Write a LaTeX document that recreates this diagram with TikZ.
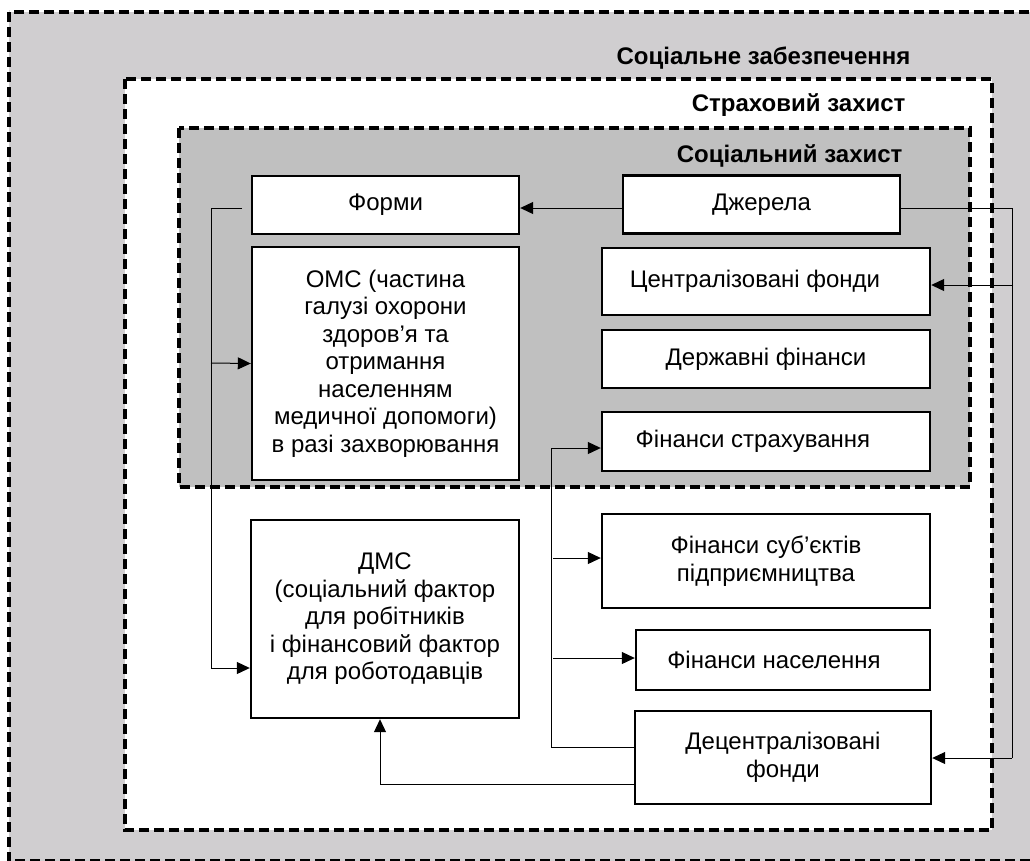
\documentclass[tikz,border=0pt]{standalone}
\usepackage{fontspec}
\setmainfont{Liberation Sans}
\usetikzlibrary{arrows.meta}
\definecolor{outerg}{RGB}{208,206,208}
\definecolor{innerg}{RGB}{192,192,192}
\begin{document}
\begin{tikzpicture}[x=1pt,y=-1pt,
  frame/.style={line width=3.4pt, dash pattern=on 10pt off 5pt},
  box/.style={draw, line width=2.4pt, fill=white, inner sep=0pt, align=center,
    font=\fontsize{24}{27.5}\selectfont},
  ttl/.style={anchor=east, font=\bfseries\fontsize{24}{27}\selectfont},
  conn/.style={line width=1pt},
  arr/.style={conn, -{Triangle[length=13pt,width=12pt]}}]
\useasboundingbox (0,0) rectangle (1030,860);
\clip (0,0) rectangle (1030,860);
% frames
\draw[frame, fill=outerg] (9,12) rectangle (1050,861);
\node[ttl] (t1) at (914,58) {Соціальне забезпечення};
\draw[frame, fill=white] (125,79) rectangle (992,830);
\node[ttl] (t2) at (909,105) {Страховий захист};
\draw[frame, fill=innerg] (179,128) rectangle (970,487);
\node[ttl] (t3) at (906,156) {Соціальний захист};
% boxes
\node[box, minimum width=267pt, minimum height=58pt] (formy) at (385.5,205) {Форми};
\node[box, minimum width=277pt, minimum height=58pt] (dzh) at (761.5,204.5) {Джерела};
\node[box, minimum width=267pt, minimum height=233pt] (oms) at (385.5,363.5)
  {ОМС (частина\\галузі охорони\\здоров’я та\\отримання\\населенням\\медичної допомоги)\\в разі захворювання};
\node[box, minimum width=328pt, minimum height=67pt] (cent) at (766,281.5) {Централізовані фонди\hspace*{22pt}};
\node[box, minimum width=328pt, minimum height=58pt] (derzh) at (766,359) {Державні фінанси};
\node[box, minimum width=328pt, minimum height=59pt] (strakh) at (766,441.5) {Фінанси страхування\hspace*{26pt}};
\node[box, minimum width=328pt, minimum height=94pt] (subj) at (766,561) {Фінанси суб’єктів\\підприємництва};
\node[box, minimum width=294pt, minimum height=60pt] (nasel) at (783,660) {Фінанси населення\hspace*{18pt}};
\node[box, minimum width=268pt, minimum height=198pt] (dms) at (385,619)
  {ДМС\\(соціальний фактор\\для робітників\\і фінансовий фактор\\для роботодавців};
\node[box, minimum width=296pt, minimum height=93pt] (decent) at (783,757.5) {Децентралізовані\\фонди};
% connectors
\coordinate (fl) at (242,208);
\coordinate (lv) at (211,208);
\draw[arr] (dzh.west |- 0,208) -- (formy.east |- 0,208);
\draw[conn] (fl) -- (lv) -- (211,668);
\draw[arr] (211,668) -- (dms.west |- 0,668);
\draw[arr] (211,363) -- (oms.west);
\coordinate (rv) at (1012,208);
\draw[conn] (dzh.east |- 0,208) -- (rv) -- (1012,758);
\draw[arr] (1012,758) -- (decent.east |- 0,758);
\draw[arr] (1013,285) -- (cent.east |- 0,285);
\coordinate (mv) at (551,747);
\draw[conn] (decent.west |- 0,747) -- (mv);
\draw[arr] (mv) -- (551,448) -- (strakh.west |- 0,448);
\draw[arr] (553,558) -- (subj.west |- 0,558);
\draw[arr] (553,658) -- (nasel.west |- 0,658);
\draw[arr] (decent.west |- 0,784) -- (380,784) -- (dms.south -| 380,0);
\end{tikzpicture}
\end{document}
